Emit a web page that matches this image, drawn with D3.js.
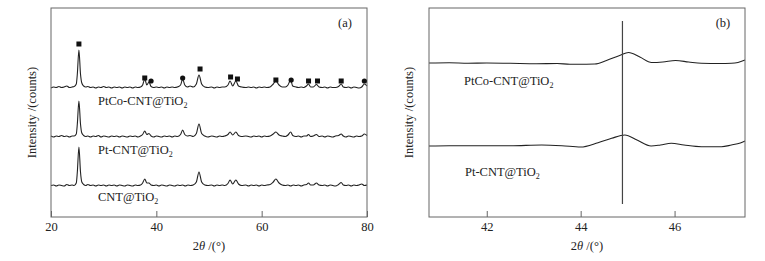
<!DOCTYPE html>
<html>
<head>
<meta charset="utf-8">
<script src="https://cdn.jsdelivr.net/npm/d3@7"></script>
<style>
  body { margin: 0; background: #fff; }
  text { font-family: 'Liberation Serif', 'Times New Roman', serif; fill: #222; }
</style>
</head>
<body>
<script>
// panel (a): 2theta / relative intensity
const cntA = [[20,0.5],[20.5,1],[21,0],[21.5,1],[22,0.5],[22.5,0],[23,1.5],[23.5,0.5],[24,1],[24.4,0.5],[24.8,3],[25.0,14],[25.3,39],[25.6,14],[25.85,4],[26.2,1.5],[26.6,0.5],[27,1.5],[27.5,0.5],[28,1],[28.5,0],[29,1],[29.5,0.5],[30,1],[30.5,0],[31,1],[31.5,0.5],[32,1],[32.5,0],[33,1],[33.5,0.5],[34,0],[34.5,1],[35,0.5],[35.5,0],[36,1],[36.5,0.5],[37,1],[37.4,3],[37.8,7],[38.2,3],[38.6,3],[39,1],[39.5,0.5],[40,1],[40.5,0],[41,1],[41.5,0.5],[42,0],[42.5,1],[43,0.5],[43.5,0],[44,1],[44.5,0.5],[45,1],[45.5,0],[46,1],[46.5,0.5],[47,1],[47.6,4],[48.1,14],[48.6,4],[49.2,1],[49.8,0.5],[50.5,1],[51,0],[51.5,1],[52,0.5],[52.5,1],[53,0.5],[53.6,2.5],[54,6],[54.5,2],[55.1,6],[55.6,2],[56.2,0.5],[57,1],[57.5,0],[58,1],[58.5,0.5],[59,1],[59.5,0],[60,1],[60.5,0.5],[61,1],[61.6,1.5],[62.2,4],[62.7,7],[63.3,3],[63.9,1],[64.5,0.5],[65,1],[65.5,0],[66,1],[66.5,0.5],[67,1],[67.5,0],[68,1],[68.5,1.5],[68.9,3],[69.3,1],[69.8,1],[70.4,3],[70.9,1],[71.5,0.5],[72,1],[72.5,0],[73,1],[73.5,0.5],[74,0],[74.6,1.5],[75.1,3.5],[75.5,1],[76,0.5],[76.5,1],[77,0],[77.5,1],[78,0.5],[78.5,1],[79,2],[79.5,0.5],[80,1]];

const ptA = [[20,1],[20.5,0],[21,1],[21.5,0.5],[22,1.5],[22.5,0.5],[23,1],[23.5,0],[24,1],[24.4,1],[24.8,3],[25.0,13],[25.3,36],[25.6,13],[25.85,4],[26.2,1.5],[26.6,0.5],[27,1],[27.5,0],[28,1],[28.5,0.5],[29,1.5],[29.5,0],[30,1],[30.5,0.5],[31,0],[31.5,1],[32,0.5],[32.5,1],[33,0],[33.5,1],[34,0.5],[34.5,0],[35,1],[35.5,0.5],[36,1],[36.5,0],[37,1],[37.4,2.5],[37.8,6],[38.2,2.5],[38.6,3.5],[39,1],[39.5,0],[40,1],[40.5,0.5],[41,0],[41.5,1],[42,0.5],[42.5,1],[43,0],[43.5,1],[44,0.5],[44.6,2.5],[45,7],[45.4,2.5],[45.9,1],[46.4,1.5],[47,0.5],[47.6,3.5],[48.1,13],[48.6,3.5],[49.2,1],[49.8,0],[50.5,1],[51,0.5],[51.5,0],[52,1],[52.5,0.5],[53,1],[53.6,2.5],[54,5],[54.5,2],[55.1,5],[55.6,1.5],[56.2,0.5],[57,1],[57.5,0.5],[58,0],[58.5,1],[59,0.5],[59.5,1],[60,0],[60.5,1],[61,0.5],[61.6,1],[62.2,3],[62.7,5],[63.3,2],[63.9,1],[64.5,0.5],[65,2],[65.5,5],[65.9,1.5],[66.5,0.5],[67,1],[67.5,0],[68,1],[68.5,1],[68.9,2.5],[69.3,0.5],[69.8,1],[70.4,2.5],[70.9,0.5],[71.5,1],[72,0],[72.5,1],[73,0.5],[73.5,0],[74,1],[74.6,1.5],[75.1,3],[75.5,1],[76,0],[76.5,1],[77,0.5],[77.5,0],[78,1],[78.5,0.5],[79,1],[79.5,3],[80,1.5]];

const ptcoA = [[20,0],[20.5,1],[21,0.5],[21.5,1.5],[22,0.5],[22.5,1],[23,2],[23.5,0.5],[24,1],[24.4,1.5],[24.8,4],[25.0,14],[25.3,38],[25.6,14],[25.85,5],[26.2,2],[26.6,1],[27,1.5],[27.5,0.5],[28,1],[28.5,0],[29,1],[29.5,0.5],[30,1.5],[30.5,0.5],[31,1],[31.5,0],[32,1],[32.5,0.5],[33,1],[33.5,0],[34,1],[34.5,0.5],[35,1],[35.5,0],[36,1],[36.5,0.5],[37,1],[37.4,3],[37.8,9],[38.2,3],[38.6,6],[39,1.5],[39.5,0.5],[40,1],[40.5,0.5],[41,1],[41.5,0],[42,1],[42.5,0.5],[43,1],[43.5,0.5],[44,1],[44.6,3],[45,9],[45.4,3],[45.9,1],[46.4,2],[47,1],[47.6,4],[48.1,13],[48.6,4],[49.2,1],[49.8,0.5],[50.5,1],[51,0],[51.5,1],[52,0.5],[52.5,1],[53,1],[53.6,3],[54,7],[54.5,2],[55.1,7],[55.6,2],[56.2,1],[57,0.5],[57.5,1],[58,0.5],[58.5,1],[59,0],[59.5,1],[60,0.5],[60.5,1],[61,0.5],[61.6,1],[62.2,4],[62.7,7],[63.3,3],[63.9,1],[64.5,1],[65,3],[65.5,8],[65.9,2],[66.5,1],[67,0.5],[67.5,1],[68,0.5],[68.5,2],[68.9,4],[69.3,1],[69.8,1],[70.4,3.5],[70.9,1],[71.5,0.5],[72,1],[72.5,0],[73,1],[73.5,0.5],[74,0.5],[74.6,1.5],[75.1,4],[75.5,1],[76,0.5],[76.5,1],[77,0],[77.5,1],[78,0.5],[78.5,0],[79,1],[79.5,4],[80,2]];

const namesA = ['CNT@TiO', 'Pt-CNT@TiO', 'PtCo-CNT@TiO'];
const offsetsA = [31, 80, 129];

// phase markers above PtCo peaks: [2theta, intensity]
const squarePeaks = [[25.3,173],[37.8,139],[48.3,148],[54.1,140],[55.4,138],[62.7,137],[68.9,136],[70.6,136],[75.1,136]];
const dotPeaks = [[39.0,136],[45.0,139],[65.6,137],[79.5,136]];

// panel (b): zoom around 45 deg
const ptB = [[40.77,0],[41.2,0.3],[41.96,0.3],[42.5,0.2],[43.17,1],[43.6,0.3],[44.0,-1],[44.37,3.3],[44.66,7.7],[44.94,11],[45.2,6],[45.5,0],[45.7,1],[45.93,2.7],[46.2,1],[46.57,-0.7],[47.0,-0.7],[47.21,1],[47.4,3],[47.5,5]];
const ptcoB = [[40.77,0],[41.2,0.3],[41.6,-0.2],[42.0,0],[42.5,-0.3],[43.06,-0.7],[43.5,-0.5],[43.77,-1.3],[44.1,-1.2],[44.3,-1],[44.55,2.5],[44.83,7.5],[45.02,10.5],[45.26,6],[45.51,0.5],[45.75,1],[46.02,2.5],[46.3,1],[46.57,-0.3],[46.96,-0.5],[47.21,-0.3],[47.35,0.5],[47.5,3]];
const namesB = ['Pt-CNT@TiO', 'PtCo-CNT@TiO'];
const offsetsB = [71, 154];
const refLine = [44.89, 13, 196];

const ticksA = [20, 40, 60, 80];
const ticksB = [42, 44, 46];

const W = 765, H = 261;
const TOP = 8, BOTTOM = 217;

const svg = d3.select('body').append('svg')
  .attr('width', W)
  .attr('height', H)
  .attr('viewBox', `0 0 ${W} ${H}`);

function panel(left, right, domain, ticks, tag, series, names, offsets, labelPos, titleX) {
  const x = d3.scaleLinear().domain(domain).range([left, right]);
  const y = d3.scaleLinear().domain([0, BOTTOM - TOP]).range([BOTTOM, TOP]);
  const g = svg.append('g');

  const line = d3.line()
    .x(d => x(d[0]))
    .y(d => y(d[1]))
    .curve(d3.curveMonotoneX);

  series.forEach((s, i) => {
    g.append('path')
      .datum(s.map(d => [d[0], d[1] + offsets[i]]))
      .attr('d', line)
      .attr('fill', 'none')
      .attr('stroke', '#222')
      .attr('stroke-width', 1.1);

    const t = g.append('text')
      .attr('x', labelPos[i][0])
      .attr('y', labelPos[i][1])
      .attr('font-size', 12.5)
      .text(names[i]);
    t.append('tspan').attr('font-size', 8).attr('dy', 3).text('2');
  });

  // frame
  g.append('rect')
    .attr('x', left).attr('y', TOP)
    .attr('width', right - left).attr('height', BOTTOM - TOP)
    .attr('fill', 'none').attr('stroke', '#666').attr('stroke-width', 1);

  const axis = g.append('g')
    .attr('transform', `translate(0,${BOTTOM})`)
    .call(d3.axisBottom(x).tickValues(ticks).tickSizeInner(-6).tickSizeOuter(0).tickPadding(5).tickFormat(d3.format('d')));
  axis.select('.domain').remove();
  axis.selectAll('line').attr('stroke', '#666');
  axis.selectAll('text').attr('font-size', 12.5).attr('font-family', "'Liberation Serif', serif").attr('fill', '#222');

  g.append('text')
    .attr('x', right - 22).attr('y', 27)
    .attr('text-anchor', 'middle')
    .attr('font-size', 12.5)
    .text(tag);

  const xt = g.append('text')
    .attr('x', (left + right) / 2).attr('y', 250)
    .attr('text-anchor', 'middle')
    .attr('font-size', 12.5);
  xt.append('tspan').text('2');
  xt.append('tspan').attr('font-style', 'italic').text('θ');
  xt.append('tspan').text(' /(°)');

  g.append('text')
    .attr('transform', `translate(${titleX},${(TOP + BOTTOM) / 2}) rotate(-90)`)
    .attr('text-anchor', 'middle')
    .attr('font-size', 12.5)
    .text('Intensity /(counts)');

  return { x, y, g };
}

const a = panel(51, 367, [20, 80], ticksA, '(a)', [cntA, ptA, ptcoA], namesA, offsetsA,
  [[98, 201], [98, 154], [98, 105]], 36);

a.g.selectAll('rect.sq')
  .data(squarePeaks)
  .enter()
  .append('rect')
  .attr('class', 'sq')
  .attr('x', d => a.x(d[0]) - 2.5)
  .attr('y', d => a.y(d[1]) - 2.5)
  .attr('width', 5).attr('height', 5)
  .attr('fill', '#111');

a.g.selectAll('circle.dot')
  .data(dotPeaks)
  .enter()
  .append('circle')
  .attr('class', 'dot')
  .attr('cx', d => a.x(d[0]))
  .attr('cy', d => a.y(d[1]))
  .attr('r', 2.6)
  .attr('fill', '#111');

const b = panel(429, 745, [40.77, 47.5], ticksB, '(b)', [ptB, ptcoB], namesB, offsetsB,
  [[465, 176], [464, 85]], 413);

b.g.append('line')
  .attr('x1', b.x(refLine[0])).attr('x2', b.x(refLine[0]))
  .attr('y1', b.y(refLine[1])).attr('y2', b.y(refLine[2]))
  .attr('stroke', '#444').attr('stroke-width', 1.2);
</script>
</body>
</html>
